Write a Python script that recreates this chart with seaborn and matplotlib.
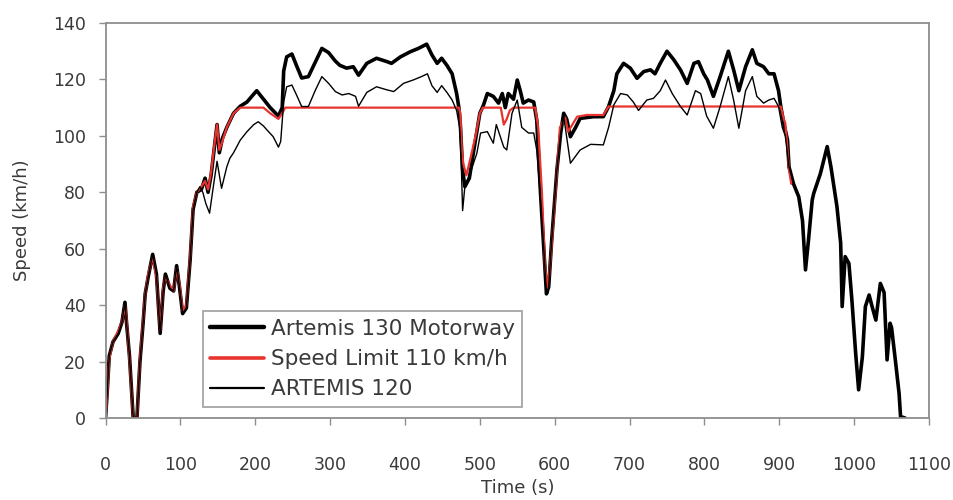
import matplotlib
matplotlib.use("Agg")
import matplotlib.pyplot as plt
import seaborn as sns

# Artemis 130 Motorway cycle (thick black)
t_130 = [0, 2, 5, 10, 17, 22, 26, 28, 32, 35, 37, 42, 46, 50, 53, 57, 63, 68, 73, 77,
         80, 86, 91, 95, 99, 103, 108, 113, 117, 122, 128, 133, 137, 141, 145, 149, 152,
         156, 162, 171, 180, 189, 197, 202, 211, 220, 231, 236, 238, 242, 249, 255, 262,
         271, 280, 289, 298, 307, 313, 322, 331, 338, 349, 362, 376, 382, 394, 407, 418,
         429, 436, 443, 449, 456, 463, 469, 472, 474, 477, 480, 486, 492, 500, 505, 510,
         518, 525, 530, 534, 538, 545, 550, 554, 558, 565, 572, 576, 581, 585, 589, 592,
         596, 603, 608, 612, 616, 621, 628, 634, 652, 665, 672, 679, 683, 692, 701, 710,
         719, 728, 734, 741, 750, 759, 768, 777, 786, 792, 799, 804, 812, 821, 832, 839,
         846, 855, 864, 870, 879, 886, 893, 899, 902, 906, 911, 913, 919, 926, 931, 935,
         939, 944, 946, 955, 964, 969, 973, 977, 982, 984, 988, 993, 997, 1002, 1006,
         1011, 1015, 1020, 1024, 1029, 1035, 1040, 1044, 1048, 1050, 1055, 1060, 1062,
         1068]
v_130 = [0, 8, 22, 27, 30, 34, 41, 34, 22, 9, 0, 0, 20, 33, 44, 50, 58, 51, 30, 45,
         51, 46, 45, 54, 46, 37, 39, 56, 74, 80, 81, 85, 80, 86, 95, 104, 94,
         99, 103, 108, 110.5, 112, 114.5, 116, 113, 110, 107, 110, 123, 128, 129, 125, 120.5,
         121, 126, 131, 129.5, 126.5, 125, 124, 124.5, 121.5, 125.7, 127.5, 126.3, 125.7, 128, 129.8, 131,
         132.5, 128.7, 125.7, 127.5, 125, 122, 115, 110, 104, 88, 82, 85, 95, 108, 111, 115,
         114, 111.6, 115, 110, 115, 113, 119.8, 116, 111.6, 112.7, 112, 105.6, 80, 62, 44, 46.5,
         63, 88, 101, 108, 106, 99.7, 103, 106.2, 106.8, 106.8, 110.4, 116, 122, 125.7, 124, 120.4,
         122.8, 123.4, 122, 125.7, 130, 127, 123.4, 118.6, 125.7, 126.3, 122, 119.8, 114, 121, 130, 123.4,
         116, 124.5, 130.5, 125.7, 124.5, 122, 122, 116, 110.4, 104.5, 98.5, 89, 83, 78.4, 70, 52.5,
         63, 77.3, 79.6, 86.7, 96.2, 89, 82, 75, 62, 39.5, 57.2, 54.8, 41.8, 23, 10,
         21.7, 39.5, 43.6, 39.5, 34.7, 47.7, 44.5, 20.6, 33.6, 32, 20.6, 8.8, 0.5,
         0]

# Speed limit 110 km/h profile (red)
t_lim = [0, 2, 5, 10, 17, 22, 26, 28, 32, 35, 37, 42, 46, 50, 53, 57, 63, 68, 73, 77,
         80, 86, 91, 95, 99, 103, 108, 113, 117, 122, 128, 133, 137, 141, 145, 149, 152,
         156, 162, 171, 180, 211, 220, 231, 236, 240, 472, 474, 476, 478, 482, 487, 494,
         500, 504, 528, 532, 536, 540, 545, 574, 578, 583, 587, 591, 595, 601, 607, 614,
         618, 630, 643, 665, 672, 902, 906, 908, 910, 913, 916]
v_lim = [0, 7, 21, 27, 31, 34, 40, 35, 21, 8, 0, 0, 21, 34, 44, 51, 57, 50, 31, 46,
         50, 47, 45, 53, 47, 38, 40, 57, 75, 80, 82, 84, 81, 87, 96, 104, 95,
         98, 103, 108, 110, 110, 108, 106, 108, 110, 110, 108, 95, 90, 86, 91.5, 99.7,
         108, 110, 110, 104, 106, 109, 110, 110, 103, 79.6, 53.6, 46, 58, 79.6, 103, 106.5,
         101.5, 106.8, 107.4, 107.4, 110.4, 110.4, 106, 104.5, 98.5, 88, 83]

# ARTEMIS 120 cycle (thin black)
t_120 = [0, 2, 5, 10, 17, 22, 26, 28, 32, 35, 37, 42, 46, 50, 53, 57, 63, 68, 73, 77,
         80, 86, 91, 95, 99, 103, 108, 113, 117, 122, 126, 130, 134, 139, 144, 149, 155,
         162, 166, 171, 180, 189, 198, 204, 211, 216, 224, 231, 234, 238, 242, 249, 256,
         262, 271, 280, 289, 298, 307, 316, 325, 334, 338, 349, 362, 376, 385, 398, 411,
         422, 430, 436, 443, 449, 456, 463, 469, 473, 475, 477, 480, 487, 496, 501, 510,
         518, 522, 532, 536, 543, 550, 556, 565, 572, 576, 581, 585, 589, 592, 596, 603,
         608, 612, 621, 634, 648, 665, 672, 679, 688, 697, 705, 712, 723, 732, 741, 748,
         757, 768, 777, 788, 795, 803, 812, 821, 832, 839, 846, 855, 864, 870, 879, 886,
         893, 899, 904, 908, 913, 919, 926, 931, 935, 939, 944, 946, 955, 964, 969, 973,
         977, 982, 984, 988, 993, 997, 1002, 1006, 1011, 1015, 1020, 1024, 1029, 1035,
         1040, 1044, 1048, 1050, 1055, 1060, 1062, 1068]
v_120 = [0, 8, 22, 27, 30, 34, 41, 34, 22, 9, 0, 0, 20, 33, 44, 50, 58, 51, 30, 45,
         51, 46, 45, 54, 46, 37, 39, 56, 74, 80, 82, 80, 76, 72.6, 82, 91, 81.4,
         89, 92, 94, 98.5, 101.5, 104, 105, 103.5, 102, 99.7, 96, 98, 112, 117.4, 118, 114,
         110.4, 110.4, 116, 121, 118.6, 115.7, 114.5, 115, 114, 110.5, 115.4, 117.4, 116.3, 115.7, 118.6, 119.8,
         121, 122, 117.8, 115.4, 117.8, 115.4, 112.7, 109, 103, 92, 73.5, 82, 86.7, 93.8, 101, 101.5,
         97.4, 104, 96, 95, 108, 112.7, 103, 101, 101, 95, 78, 62, 44, 46.5, 63, 88,
         101, 107, 90.3, 95, 97, 96.8, 103, 111, 115, 114.5, 112, 109, 112.7, 113.3, 116, 119.8,
         115, 110.4, 107.4, 116, 115, 107, 102.7, 110.4, 121, 112.7, 102.7, 116, 121, 114, 111.6, 112.7,
         113.3, 110.4, 103, 100, 89, 83, 78.4, 70, 52.5, 63, 77.3, 79.6, 86.7, 96.2, 89, 82,
         75, 62, 39.5, 57.2, 54.8, 41.8, 23, 10, 21.7, 39.5, 43.6, 39.5, 34.7, 47.7,
         44.5, 20.6, 33.6, 32, 20.6, 8.8, 0.5, 0]

x_ticks = list(range(0, 1101, 100))
y_ticks = list(range(0, 141, 20))

sns.set_theme(style="white")
plt.rcParams["font.family"] = ["DejaVu Sans"]

text_col = "#3a3a3a"
spine_col = "#8e8e8e"
red = "#e8332e"

fig = plt.figure(figsize=(9.54, 5.0), dpi=100)
ax = fig.add_axes([0.1106, 0.164, 0.8632, 0.79])

sns.lineplot(x=t_130, y=v_130, ax=ax, color="black", linewidth=2.6,
             estimator=None, sort=False, label="Artemis 130 Motorway")
sns.lineplot(x=t_lim, y=v_lim, ax=ax, color=red, linewidth=1.6,
             estimator=None, sort=False, label="Speed Limit 110 km/h")
sns.lineplot(x=t_120, y=v_120, ax=ax, color="black", linewidth=1.0,
             estimator=None, sort=False, label="ARTEMIS 120")

ax.set_xlim(0, 1100)
ax.set_ylim(0, 140)
ax.set_xticks(x_ticks)
ax.set_yticks(y_ticks)

for side in ["left", "right", "top", "bottom"]:
    ax.spines[side].set_visible(True)
    ax.spines[side].set_color(spine_col)
    ax.spines[side].set_linewidth(1.3)

ax.tick_params(axis="both", direction="out", length=5, width=1.0, color=spine_col,
               labelsize=12.5, labelcolor=text_col)
ax.tick_params(axis="y", pad=9, left=True)
ax.tick_params(axis="x", pad=22, bottom=True)

ax.set_xlabel("Time (s)", fontsize=13, color=text_col, labelpad=4)
ax.set_ylabel("Speed (km/h)", fontsize=13, color=text_col, labelpad=16)

leg = ax.legend(loc="lower left", bbox_to_anchor=(0.118, 0.028), borderaxespad=0,
                frameon=True, fancybox=False, fontsize=15.5, handlelength=2.5,
                handletextpad=0.3, labelspacing=0.47, borderpad=0.36,
                edgecolor=spine_col, labelcolor=text_col)
leg.get_frame().set_linewidth(1.3)
leg.get_lines()[0].set_linewidth(3.2)
leg.get_lines()[1].set_linewidth(2.6)
leg.get_lines()[2].set_linewidth(1.6)

fig.savefig("out.png", dpi=100, facecolor="white")
